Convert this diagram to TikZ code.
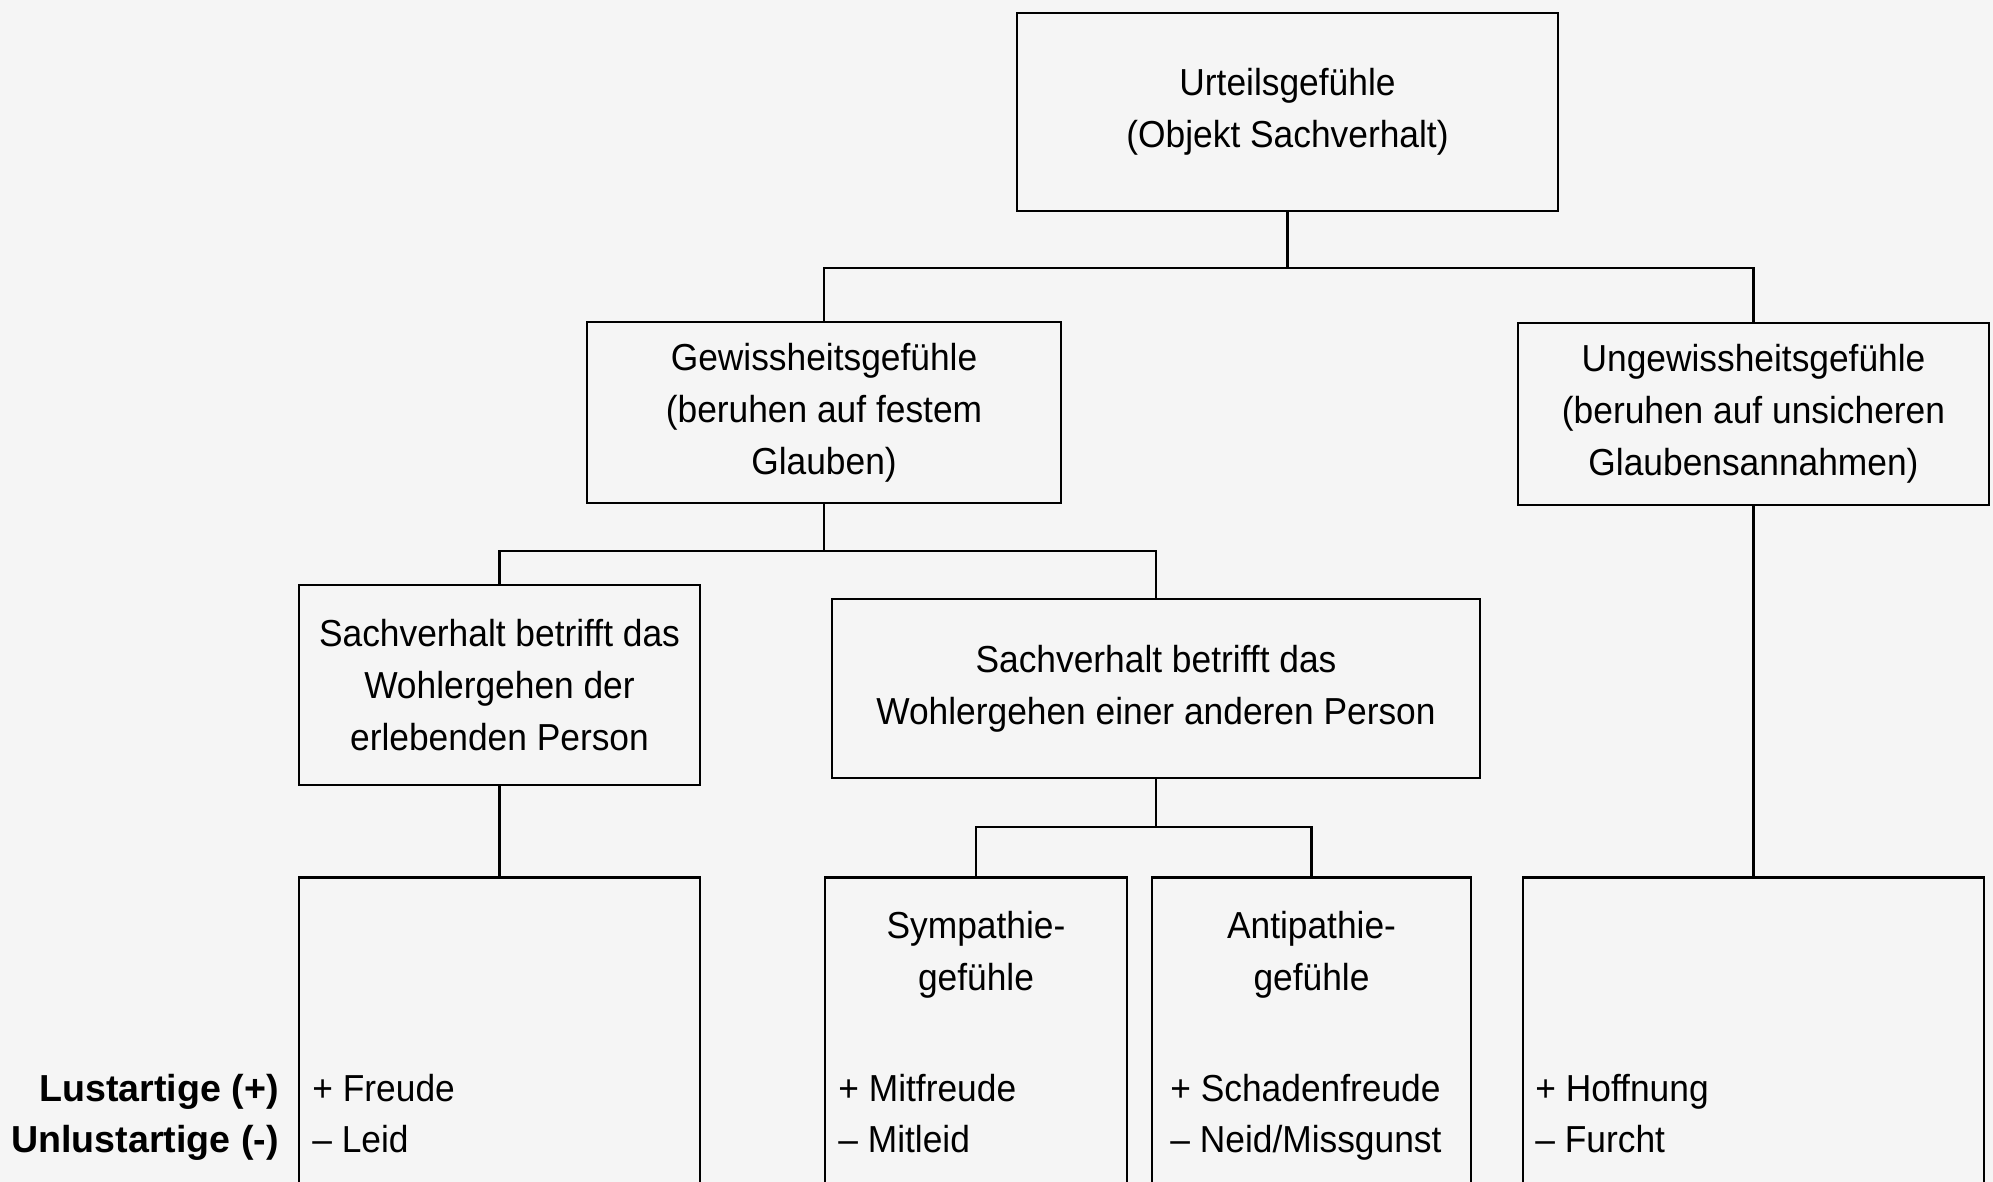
\documentclass[tikz,border=0pt]{standalone}
\usepackage{fontspec}
\setmainfont[FakeStretch=0.94]{Liberation Sans}
\newfontfamily\lustfont{Liberation Sans}
\begin{document}
\begin{tikzpicture}[x=0.5pt,y=-0.5pt,
  box/.style={draw,line width=1.4pt,inner sep=0mm,align=center,font=\fontsize{18.8}{26}\selectfont},
  entry/.style={inner sep=0mm,font=\fontsize{18.8}{26}\selectfont},
  link/.style={line width=1.4pt}]
\useasboundingbox (0,0) rectangle (1993,1182);
\fill[black!4] (0,0) rectangle (1993,1182);
\clip (0,0) rectangle (1993,1182);
\foreach \x/\y/\n/\w/\h/\t in {1287.5/112/urteil/270.5/99/{Urteilsgefühle\\(Objekt Sachverhalt)},
    824/412.5/gewiss/237/90.5/{Gewissheitsgefühle\\(beruhen auf festem\\Glauben)},
    1753.5/414/ungewiss/235.5/91/{Ungewissheitsgefühle\\(beruhen auf unsicheren\\Glaubensannahmen)},
    499.5/685/eigen/200.5/100/{Sachverhalt betrifft das\\Wohlergehen der\\erlebenden Person},
    1156/688.5/fremd/324/89.5/{Sachverhalt betrifft das\\Wohlergehen einer anderen Person}}
  \node[box,minimum width=\w pt,minimum height=\h pt] (\n) at (\x,\y) {\t};
% open boxes at the bottom
\foreach \x/\n/\w in {499.5/freude/200.5, 976/sympathie/151, 1311.5/antipathie/159.5, 1753.5/hoffnung/230.5}
  \node[box,anchor=north,minimum width=\w pt,minimum height=200pt] (\n) at (\x,876) {};
\foreach \x/\n/\t in {976/symtitle/{Sympathie-\\gefühle}, 1311.5/antititle/{Antipathie-\\gefühle}}
  \node[entry,align=center] (\n) at (\x,955) {\t};
\foreach \x/\n/\a/\b in {312/e1/Freude/Leid, 838/e2/Mitfreude/Mitleid, 1170/e3/Schadenfreude/Neid\slash Missgunst, 1535/e4/Hoffnung/Furcht} {
  \node[entry,anchor=base west] (\n plus) at (\x,1101) {+ \a};
  \node[entry,anchor=base west] (\n minus) at (\x,1152) {– \b};
}
\node[entry,anchor=base east,font=\lustfont\bfseries\fontsize{18.8}{26}\selectfont] (lust) at (279,1101) {Lustartige (+)};
\node[entry,anchor=base east,font=\lustfont\bfseries\fontsize{18.8}{26}\selectfont] (unlust) at (279,1152) {Unlustartige (-)};
% connectors
\coordinate (bus1) at (1287.5,268);
\coordinate (bus2) at (824,551);
\coordinate (bus3) at (1156,827);
\draw[link] (urteil) -- (bus1);
\draw[link] (gewiss.north) |- (bus1) -| (ungewiss.north);
\draw[link] (gewiss) -- (bus2);
\draw[link] (eigen.north) |- (bus2) -| (fremd.north);
\draw[link] (fremd) -- (bus3);
\draw[link] (sympathie.north) |- (bus3) -| (antipathie.north);
\draw[link] (eigen) -- (freude);
\draw[link] (ungewiss) -- (hoffnung);
\end{tikzpicture}
\end{document}
